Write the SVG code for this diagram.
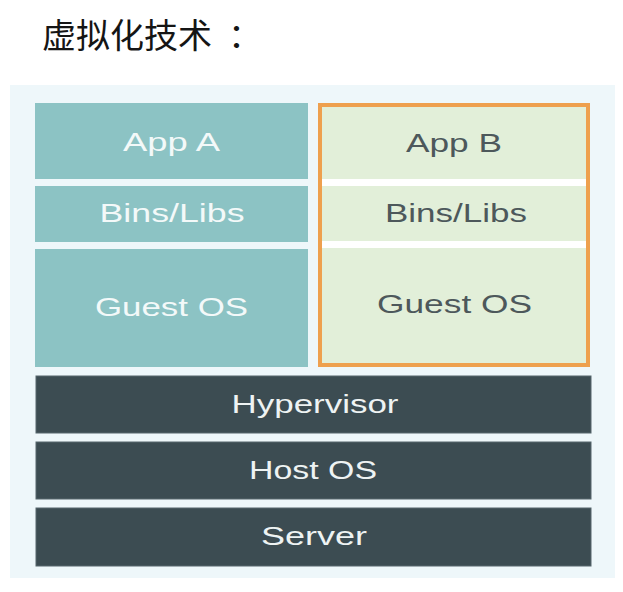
<svg xmlns="http://www.w3.org/2000/svg" width="623" height="592" viewBox="0 0 623 592">
<style>
.title{font-family:"Noto Sans CJK SC","Liberation Sans",sans-serif;font-size:34px;fill:#151515}
.t{font-family:"Liberation Sans",Arial,sans-serif;text-anchor:middle}
.ta{font-size:26px;fill:#f3f9f9}
.tb{font-size:26px;fill:#4d585b}
.td{font-size:25px;fill:#eef3f3}
.teal{fill:#8cc3c4}
.green{fill:#e2efd9}
.dark{fill:#3c4c52;stroke:#56676c;stroke-width:1}
.sep{fill:#ffffff}
</style>
<rect width="623" height="592" fill="#ffffff"/>
<text class="title" x="42" y="48">虚拟化技术<tspan x="228">：</tspan></text>
<rect id="panel" x="10" y="85" width="605" height="493" fill="#eef7fa"/>
<g id="vm-a">
  <g id="app-a"><rect class="teal" x="35" y="103" width="273" height="76"/><text class="t ta" x="171.5" y="151" textLength="97" lengthAdjust="spacingAndGlyphs">App A</text></g>
  <g id="bins-a"><rect class="teal" x="35" y="186" width="273" height="56"/><text class="t ta" x="172" y="222" textLength="145" lengthAdjust="spacingAndGlyphs">Bins/Libs</text></g>
  <g id="guest-a"><rect class="teal" x="35" y="249" width="273" height="118"/><text class="t ta" x="171.5" y="316" textLength="153" lengthAdjust="spacingAndGlyphs">Guest OS</text></g>
</g>
<g id="vm-b">
  <rect x="320" y="105" width="268" height="260" class="green" stroke="#eea04e" stroke-width="4"/>
  <rect class="sep" x="322" y="179" width="264" height="7"/>
  <rect class="sep" x="322" y="241" width="264" height="7"/>
  <g id="app-b"><text class="t tb" x="454" y="152" textLength="96" lengthAdjust="spacingAndGlyphs">App B</text></g>
  <g id="bins-b"><text class="t tb" x="456" y="222" textLength="142" lengthAdjust="spacingAndGlyphs">Bins/Libs</text></g>
  <g id="guest-b"><text class="t tb" x="454.5" y="313" textLength="155" lengthAdjust="spacingAndGlyphs">Guest OS</text></g>
</g>
<g id="hypervisor"><rect class="dark" x="36" y="376" width="555" height="57"/><text class="t td" x="315" y="413" textLength="167" lengthAdjust="spacingAndGlyphs">Hypervisor</text></g>
<g id="host-os"><rect class="dark" x="36" y="442" width="555" height="57"/><text class="t td" x="313" y="479" textLength="128" lengthAdjust="spacingAndGlyphs">Host OS</text></g>
<g id="server"><rect class="dark" x="36" y="508" width="555" height="58"/><text class="t td" x="314" y="545" textLength="106" lengthAdjust="spacingAndGlyphs">Server</text></g>
<g id="connectors"></g>
</svg>
